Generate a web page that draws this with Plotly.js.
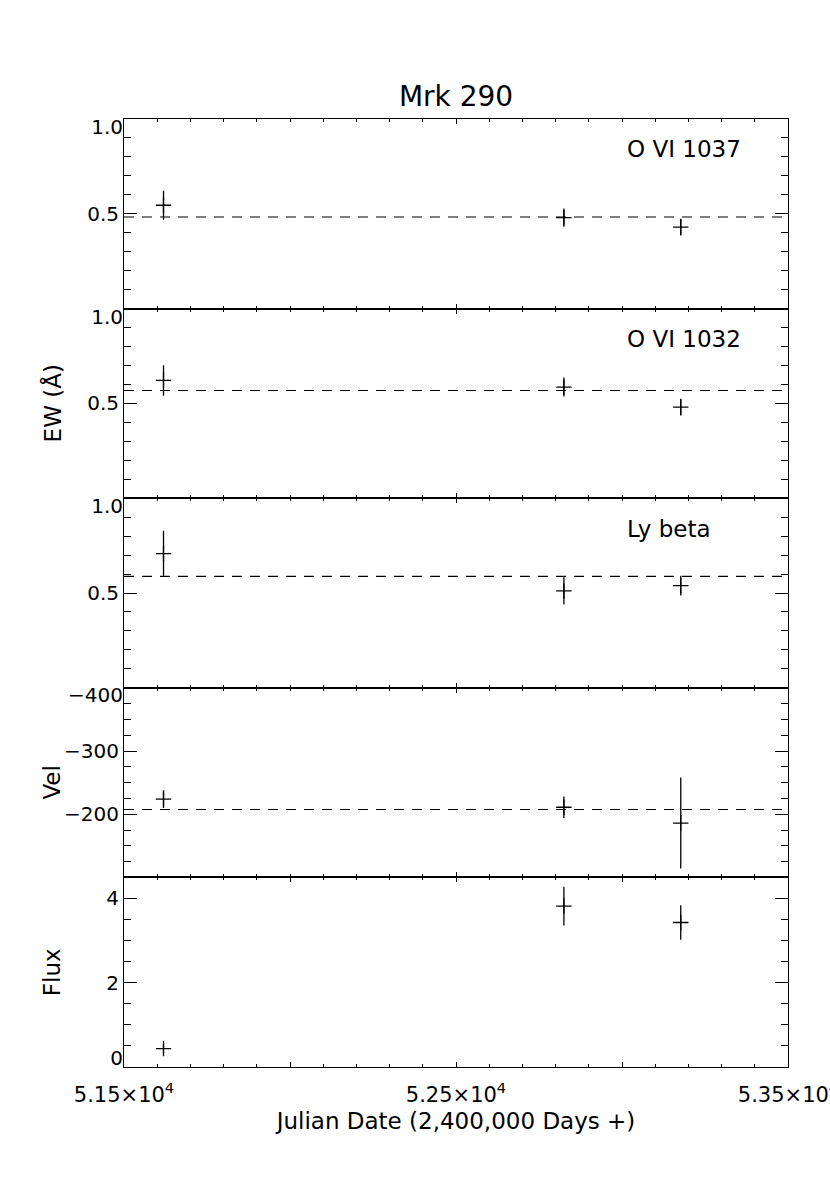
<!DOCTYPE html>
<html>
<head>
<meta charset="utf-8">
<script src="https://cdn.plot.ly/plotly-3.0.1.min.js"></script>
<style>html,body{margin:0;padding:0;background:#fff;}#chart{width:830px;height:1186px;}</style>
</head>
<body>
<div id="chart"></div>
<script>
// ---- data ----
const dates = [51619, 52825, 53177];           // Julian Date - 2,400,000
const ew1037 = [0.545, 0.480, 0.430];
const err1037 = [0.077, 0.048, 0.044];
const mean1037 = 0.483;
const ew1032 = [0.621, 0.586, 0.480];
const err1032 = [0.080, 0.050, 0.044];
const mean1032 = 0.568;
const ewLyb = [0.708, 0.511, 0.539];
const errLyb = [0.120, 0.072, 0.052];
const meanLyb = 0.588;
const vel = [-224, -211, -186];
const errVel = [14, 17, 72];
const meanVel = -207.4;
const flux = [0.435, 3.82, 3.43];
const errFlux = [0.10, 0.46, 0.41];

const xRange = [51500, 53500];
const xTickVals = [51500, 52000, 52500, 53000, 53500];
const xTickText = ['5.15×10<sup>4</sup>', '', '5.25×10<sup>4</sup>', '', '5.35×10<sup>4</sup>'];
const panelLabels = ['O VI 1037', 'O VI 1032', 'Ly beta'];
const yTitles = ['EW (Å)', 'Vel', 'Flux'];

const FONT = 'DejaVu Sans, Liberation Sans, sans-serif';
function tickFont() { return {family: FONT, size: 20, color: '#000'}; }

const series = [
  {y: ew1037, e: err1037, mean: mean1037},
  {y: ew1032, e: err1032, mean: mean1032},
  {y: ewLyb, e: errLyb, mean: meanLyb},
  {y: vel, e: errVel, mean: meanVel},
  {y: flux, e: errFlux, mean: null}
];

const traces = [];
series.forEach((s, i) => {
  const n = i + 1;
  const xa = 'x' + (n === 1 ? '' : n);
  const ya = 'y' + (n === 1 ? '' : n);
  if (s.mean !== null) {
    traces.push({
      x: xRange, y: [s.mean, s.mean], xaxis: xa, yaxis: ya,
      mode: 'lines', line: {color: '#000', width: 1.2, dash: '10px,8px'},
      hoverinfo: 'skip', showlegend: false
    });
  }
  traces.push({
    x: dates, y: s.y, xaxis: xa, yaxis: ya,
    mode: 'markers', showlegend: false,
    marker: {symbol: 'cross-thin', size: 11, color: '#000', line: {color: '#000', width: 1.3}},
    error_y: {type: 'data', array: s.e, visible: true, width: 0, thickness: 1.3, color: '#000'}
  });
});

const layout = {
  width: 830, height: 1186,
  paper_bgcolor: '#fff', plot_bgcolor: '#fff',
  margin: {l: 124, r: 42, t: 119, b: 119},
  font: {family: FONT, size: 20, color: '#000'},
  title: {text: 'Mrk 290', font: {family: FONT, size: 28, color: '#000'},
          x: 0.5, xref: 'paper', xanchor: 'center', y: 1 - 96 / 1186, yanchor: 'middle'},
  showlegend: false,
  annotations: []
};

const domains = [[0.8, 1], [0.6, 0.8], [0.4, 0.6], [0.2, 0.4], [0, 0.2]];
const yRanges = [[0, 1], [0, 1], [0, 1], [-100, -400], [0, 4.5]];
// labels centred on their ticks
const yMidVals = [[0, 0.5, 1], [0, 0.5, 1], [0, 0.5, 1], [-400, -300, -200, -100], [0, 2, 4]];
const yMidText = [['', '0.5', ''], ['', '0.5', ''], ['', '0.5', ''], ['', '−300', '−200', ''], ['', '2', '4']];
// labels at the panel edges (drawn pulled inside the panel, as in the reference)
const yEdgeVal = [1, 1, 1, -400, 0];
const yEdgeText = ['1.0', '1.0', '1.0', '−400', '0'];
const yEdgeShift = [8, 8, 8, -7, -9];
const yMinor = [0.1, 0.1, 0.1, 25, 0.5];

for (let n = 1; n <= 5; n++) {
  const sfx = n === 1 ? '' : n;
  layout['xaxis' + sfx] = {
    domain: [0, 1], anchor: 'y' + sfx, range: xRange,
    matches: n === 1 ? undefined : 'x',
    tickmode: 'array', tickvals: xTickVals, ticktext: xTickText,
    showticklabels: n === 5, ticklabeloverflow: 'allow', ticklabelstandoff: 9,
    ticks: 'inside', ticklen: 5, tickwidth: 1, tickcolor: '#000',
    minor: {dtick: 100, tick0: 51500, ticks: 'inside', ticklen: 3, tickwidth: 1, tickcolor: '#000'},
    showline: true, linecolor: '#000', linewidth: 1, mirror: 'ticks',
    showgrid: false, zeroline: false,
    tickfont: {family: FONT, size: 21, color: '#000'}
  };
  layout['yaxis' + sfx] = {
    domain: domains[n - 1], anchor: 'x' + sfx, range: yRanges[n - 1],
    tickmode: 'array', tickvals: yMidVals[n - 1], ticktext: yMidText[n - 1],
    ticks: 'inside', ticklen: 13, tickwidth: 1, tickcolor: '#000',
    minor: {dtick: yMinor[n - 1], tick0: yRanges[n - 1][0], ticks: 'inside', ticklen: 7, tickwidth: 1, tickcolor: '#000'},
    showline: true, linecolor: '#000', linewidth: 1, mirror: 'ticks',
    showgrid: false, zeroline: false, tickfont: tickFont()
  };
  // overlay axis only carrying the edge label
  layout['yaxis' + (n + 5)] = {
    overlaying: 'y' + sfx, anchor: 'x' + sfx, side: 'left', range: yRanges[n - 1],
    tickmode: 'array', tickvals: [yEdgeVal[n - 1]], ticktext: [yEdgeText[n - 1]],
    ticks: '', showline: false, showgrid: false, zeroline: false,
    ticklabelshift: yEdgeShift[n - 1], tickfont: tickFont()
  };
  traces.push({x: [], y: [], xaxis: 'x' + sfx, yaxis: 'y' + (n + 5), mode: 'markers', showlegend: false, hoverinfo: 'skip'});
}

// panel labels
panelLabels.forEach((t, i) => {
  const sfx = i === 0 ? '' : (i + 1);
  layout.annotations.push({
    text: t, xref: 'x' + sfx, yref: 'y' + sfx + ' domain',
    x: 53010, y: 0.84, xanchor: 'left', yanchor: 'middle',
    showarrow: false, font: {family: FONT, size: 23, color: '#000'}
  });
});

// y axis titles
const yTitleRefs = ['y2 domain', 'y4 domain', 'y5 domain'];
yTitles.forEach((t, i) => {
  layout.annotations.push({
    text: t, xref: 'paper', yref: yTitleRefs[i],
    x: (52 - 124) / 664, y: 0.5, xanchor: 'center', yanchor: 'middle',
    textangle: -90, showarrow: false, font: {family: FONT, size: 23, color: '#000'}
  });
});

// x axis title
layout.xaxis5.title = {text: 'Julian Date (2,400,000 Days +)', font: {family: FONT, size: 23, color: '#000'}, standoff: 6};

Plotly.newPlot('chart', traces, layout, {displayModeBar: false, staticPlot: true});
</script>
</body>
</html>
